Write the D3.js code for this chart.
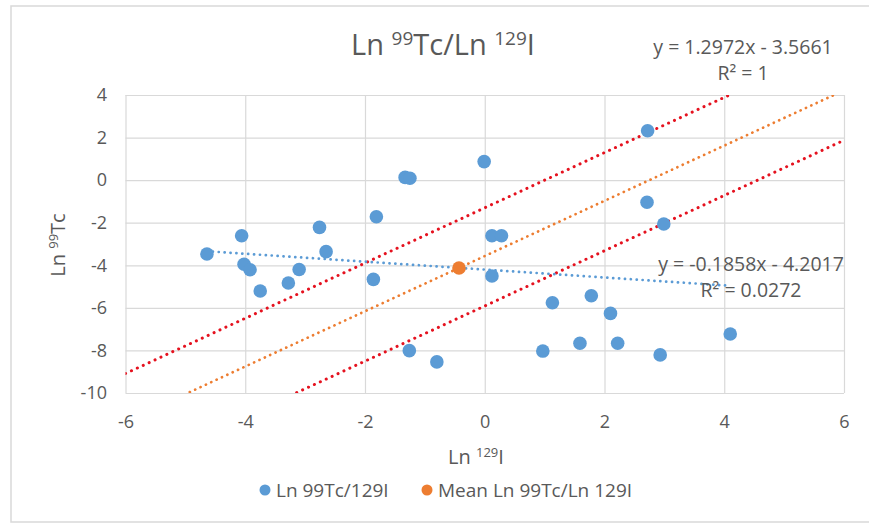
<!DOCTYPE html>
<html>
<head>
<meta charset="utf-8">
<script src="https://cdn.jsdelivr.net/npm/d3@7"></script>
<style>
  html, body { margin: 0; padding: 0; background: #fff; }
  svg { display: block; font-family: "Open Sans", sans-serif; }
</style>
</head>
<body>
<svg id="chart" width="869" height="525"></svg>
<script>
// Ln 129I (x) and Ln 99Tc (y) for each sample
const lnI = [-4.64, -4.06, -4.02, -3.92, -3.75, -3.28, -3.10, -2.76, -2.65, -1.81,
             -1.86, -1.33, -1.25, -1.26, -0.80, -0.01, 0.12, 0.28, 0.12, 1.13,
             0.97, 1.78, 1.59, 2.10, 2.22, 2.93, 2.72, 2.71, 2.99, 4.10];
const lnTc = [-3.47, -2.61, -3.95, -4.21, -5.21, -4.83, -4.20, -2.22, -3.36, -1.72,
              -4.66, 0.13, 0.09, -8.01, -8.54, 0.87, -2.61, -2.61, -4.50, -5.76,
              -8.03, -5.43, -7.66, -6.26, -7.66, -8.21, 2.32, -1.04, -2.06, -7.23];

// Mean of the ratio
const meanPoint = [-0.43, -4.13];

// Fitted lines: slope / intercept
const meanLine = { slope: 1.2972, intercept: -3.5661 };
const upperBand = { slope: 1.2972, intercept: -1.30 };
const lowerBand = { slope: 1.2972, intercept: -5.91 };
const sampleFit = { slope: -0.1858, intercept: -4.2017 };

const meanLineLabel = ["y = 1.2972x - 3.5661", "R² = 1"];
const sampleFitLabel = ["y = -0.1858x - 4.2017", "R² = 0.0272"];

const xTicks = [-6, -4, -2, 0, 2, 4, 6];
const yTicks = [-10, -8, -6, -4, -2, 0, 2, 4];

const legendNames = ["Ln 99Tc/129I", "Mean Ln 99Tc/Ln 129I"];
const seriesColors = ["#5b9bd5", "#ed7d31"];

const svg = d3.select("#chart");
const textColor = "#595959";
const gridColor = "#d9d9d9";

// outer chart frame
svg.append("rect")
  .attr("x", 11).attr("y", 6).attr("width", 880).attr("height", 516)
  .attr("fill", "#fff").attr("stroke", gridColor).attr("stroke-width", 1.5);

const plot = { left: 125.5, right: 844, top: 95, bottom: 393 };
const x = d3.scaleLinear().domain([-6, 6]).range([plot.left, plot.right]);
const y = d3.scaleLinear().domain([-10, 4]).range([plot.bottom, plot.top]);

// gridlines + tick labels
const gy = svg.append("g")
  .attr("transform", `translate(${plot.left},0)`)
  .call(d3.axisLeft(y).tickValues(yTicks).tickFormat(d => String(d))
    .tickSize(-(plot.right - plot.left)).tickPadding(18.5));
const gx = svg.append("g")
  .attr("transform", `translate(0,${plot.bottom})`)
  .call(d3.axisBottom(x).tickValues(xTicks).tickFormat(d => String(d))
    .tickSize(-(plot.bottom - plot.top)));
[gx, gy].forEach(g => {
  g.select(".domain").remove();
  g.selectAll(".tick line").attr("stroke", gridColor).attr("stroke-width", 1.2);
  g.selectAll(".tick text").attr("fill", textColor)
    .style("font-size", "18px").style("font-family", "Open Sans");
});
gx.selectAll(".tick text").attr("y", 35).attr("dy", 0);

// clip for lines
svg.append("clipPath").attr("id", "plotClip")
  .append("rect").attr("x", plot.left).attr("y", plot.top)
  .attr("width", plot.right - plot.left).attr("height", plot.bottom - plot.top);

const lineGen = d3.line().x(d => x(d[0])).y(d => y(d[1]));
function fitPoints(f, x0, x1) {
  return [[x0, f.slope * x0 + f.intercept], [x1, f.slope * x1 + f.intercept]];
}
const lines = svg.append("g").attr("clip-path", "url(#plotClip)");
[upperBand, lowerBand].forEach(f => {
  lines.append("path").attr("d", lineGen(fitPoints(f, -6, 6)))
    .attr("fill", "none").attr("stroke", "#e5121f").attr("stroke-width", 3)
    .attr("stroke-linecap", "round").attr("stroke-dasharray", "0.1 6.4");
});
lines.append("path").attr("d", lineGen(fitPoints(meanLine, -6, 6)))
  .attr("fill", "none").attr("stroke", seriesColors[1]).attr("stroke-width", 2.7)
  .attr("stroke-linecap", "round").attr("stroke-dasharray", "0.1 5.8");
lines.append("path").attr("d", lineGen(fitPoints(sampleFit, d3.min(lnI), d3.max(lnI))))
  .attr("fill", "none").attr("stroke", seriesColors[0]).attr("stroke-width", 2.7)
  .attr("stroke-linecap", "round").attr("stroke-dasharray", "0.1 5.8");

// sample points
svg.append("g").selectAll("circle").data(d3.range(lnI.length)).join("circle")
  .attr("cx", i => x(lnI[i])).attr("cy", i => y(lnTc[i])).attr("r", 6.8)
  .attr("fill", seriesColors[0]);
// mean point
svg.append("circle").attr("cx", x(meanPoint[0])).attr("cy", y(meanPoint[1]))
  .attr("r", 6.8).attr("fill", seriesColors[1]);

// superscript-aware text helper
function richText(sel, parts, supSize) {
  parts.forEach(p => {
    if (p.sup) {
      sel.append("tspan").attr("dy", -supSize * 0.55).style("font-size", supSize + "px").text(p.t);
    } else {
      sel.append("tspan").attr("dy", p.after ? supSize * 0.55 : 0).text(p.t);
    }
  });
}

// title
const title = svg.append("text").attr("x", 443).attr("y", 55)
  .attr("text-anchor", "middle").attr("fill", textColor).style("font-size", "29px");
richText(title, [{ t: "Ln " }, { t: "99", sup: true }, { t: "Tc/Ln ", after: true },
  { t: "129", sup: true }, { t: "I", after: true }], 19);

// axis titles
const xTitle = svg.append("text").attr("x", 476).attr("y", 464)
  .attr("text-anchor", "middle").attr("fill", textColor).style("font-size", "20px");
richText(xTitle, [{ t: "Ln " }, { t: "129", sup: true }, { t: "I", after: true }], 13);

const yTitle = svg.append("text").attr("transform", "translate(65,245) rotate(-90)")
  .attr("text-anchor", "middle").attr("fill", textColor).style("font-size", "20px");
richText(yTitle, [{ t: "Ln " }, { t: "99", sup: true }, { t: "Tc", after: true }], 13);

// trendline equations
function equation(lines2, cx, y0, gap) {
  lines2.forEach((s, i) => {
    svg.append("text").attr("x", cx).attr("y", y0 + i * gap)
      .attr("text-anchor", "middle").attr("fill", textColor)
      .style("font-size", "19.5px").text(s);
  });
}
equation(meanLineLabel, 743, 54, 26);
equation(sampleFitLabel, 751, 271, 26);

// legend
const legendX = [265, 427];
legendNames.forEach((name, i) => {
  svg.append("circle").attr("cx", legendX[i]).attr("cy", 490).attr("r", 5.5)
    .attr("fill", seriesColors[i]);
  svg.append("text").attr("x", legendX[i] + 11).attr("y", 496.5)
    .attr("fill", textColor).style("font-size", "19px").text(name);
});
</script>
</body>
</html>
